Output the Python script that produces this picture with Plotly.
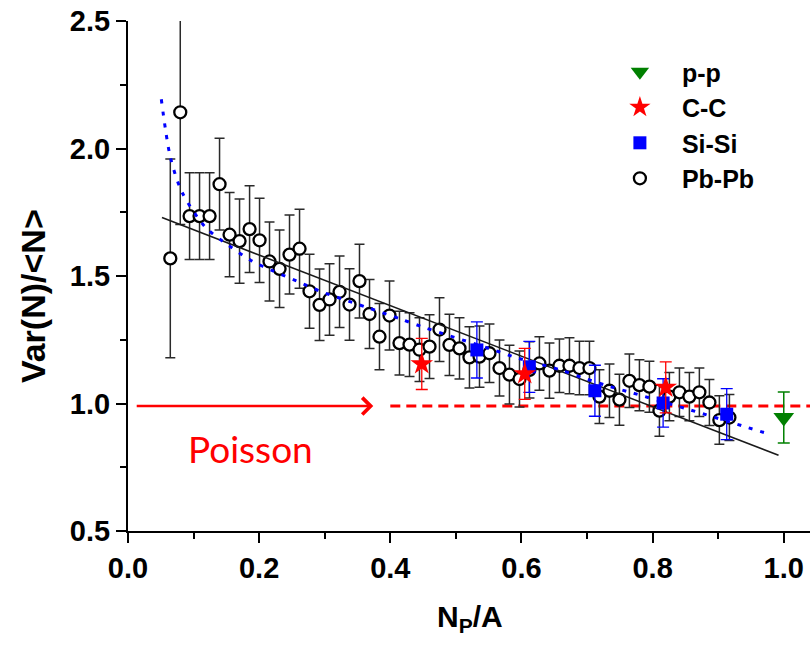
import plotly.graph_objects as go

# ---------------- data ----------------
pb_x = [0.0645, 0.0797, 0.0939, 0.1091, 0.1244, 0.1396, 0.1549, 0.1701, 0.1854, 0.2006,
        0.2158, 0.2311, 0.2463, 0.2616, 0.2768, 0.2921, 0.3073, 0.3226, 0.3378, 0.3530,
        0.3683, 0.3835, 0.3988, 0.4140, 0.4293, 0.4445, 0.4598, 0.4750, 0.4902, 0.5055,
        0.5207, 0.5360, 0.5512, 0.5665, 0.5817, 0.5970, 0.6122, 0.6274, 0.6427, 0.6579,
        0.6732, 0.6884, 0.7037, 0.7189, 0.7342, 0.7494, 0.7646, 0.7799, 0.7951, 0.8104,
        0.8256, 0.8409, 0.8561, 0.8713, 0.8866, 0.9018, 0.9171]
pb_y = [1.569, 2.142, 1.735, 1.735, 1.735, 1.860, 1.662, 1.637, 1.684, 1.640,
        1.557, 1.528, 1.584, 1.607, 1.440, 1.387, 1.408, 1.438, 1.388, 1.480,
        1.351, 1.262, 1.345, 1.237, 1.231, 1.211, 1.223, 1.290, 1.230, 1.216,
        1.181, 1.184, 1.197, 1.139, 1.113, 1.096, 1.132, 1.157, 1.129, 1.148,
        1.148, 1.139, 1.139, 1.027, 1.050, 1.015, 1.089, 1.072, 1.066, 0.972,
        1.027, 1.044, 1.027, 1.044, 1.004, 0.935, 0.945]
pb_err = [0.390, 0.440, 0.170, 0.170, 0.170, 0.180, 0.165, 0.165, 0.170, 0.165,
          0.155, 0.152, 0.155, 0.155, 0.145, 0.140, 0.140, 0.140, 0.140, 0.145,
          0.135, 0.130, 0.135, 0.125, 0.125, 0.125, 0.125, 0.125, 0.120, 0.120,
          0.120, 0.120, 0.115, 0.110, 0.115, 0.110, 0.110, 0.105, 0.108, 0.105,
          0.110, 0.105, 0.105, 0.105, 0.105, 0.100, 0.105, 0.100, 0.100, 0.100,
          0.095, 0.095, 0.095, 0.095, 0.090, 0.095, 0.090]

si_x = [0.532, 0.612, 0.712, 0.816, 0.913]
si_y = [1.210, 1.144, 1.050, 1.002, 0.958]
si_err = [0.110, 0.100, 0.100, 0.095, 0.100]

cc_x = [0.448, 0.605, 0.820]
cc_y = [1.155, 1.116, 1.063]
cc_err = [0.100, 0.100, 0.100]

pp_x = [1.000]
pp_y = [0.945]
pp_err = [0.100]

fit_x = [0.0518, 0.992]
fit_y = [1.729, 0.797]

curve_x = [0.0508, 0.0645, 0.0823, 0.1178, 0.1534, 0.1875, 0.2220, 0.2576, 0.2931, 0.3287,
           0.3643, 0.4151, 0.4506, 0.5573, 0.5904, 0.6590, 0.6945, 0.7302, 0.7657, 0.8521,
           0.9410, 0.9765]
curve_y = [2.193, 1.967, 1.829, 1.692, 1.620, 1.561, 1.519, 1.480, 1.440, 1.408,
           1.377, 1.332, 1.299, 1.210, 1.181, 1.132, 1.100, 1.070, 1.044, 0.979,
           0.909, 0.881]

poisson_level = 0.99
poisson_dash_x = [0.40, 1.04]
arrow_x = [0.011, 0.374]

x_ticks = [0.0, 0.2, 0.4, 0.6, 0.8, 1.0]
x_ticklabels = ["0.0", "0.2", "0.4", "0.6", "0.8", "1.0"]
y_ticks = [0.5, 1.0, 1.5, 2.0, 2.5]
y_ticklabels = ["0.5", "1.0", "1.5", "2.0", "2.5"]

FONT = "Liberation Sans, Arial, sans-serif"

fig = go.Figure()

# Poisson dashed reference line
fig.add_trace(go.Scatter(x=poisson_dash_x, y=[poisson_level] * len(poisson_dash_x), mode="lines",
                         line=dict(color="#ff0000", width=3, dash="10px,6px"),
                         showlegend=False, hoverinfo="skip"))

# Pb-Pb
fig.add_trace(go.Scatter(x=pb_x, y=pb_y, mode="markers", name="Pb-Pb", legendrank=4,
                         marker=dict(symbol="circle", size=12, color="white",
                                     line=dict(color="black", width=2.3)),
                         error_y=dict(type="data", array=pb_err, color="#2a2a2a",
                                      thickness=1.5, width=5)))

# linear fit
fig.add_trace(go.Scatter(x=fit_x, y=fit_y, mode="lines",
                         line=dict(color="#1a1a1a", width=1.6),
                         showlegend=False, hoverinfo="skip"))

# blue dotted curve
fig.add_trace(go.Scatter(x=curve_x, y=curve_y, mode="lines",
                         line=dict(color="#0000ff", width=3, dash="4px,8px", shape="spline",
                                   smoothing=0.8),
                         showlegend=False, hoverinfo="skip"))

# Si-Si
fig.add_trace(go.Scatter(x=si_x, y=si_y, mode="markers", name="Si-Si", legendrank=3,
                         marker=dict(symbol="square", size=13, color="#0000ff"),
                         error_y=dict(type="data", array=si_err, color="#0000ff",
                                      thickness=1.3, width=6)))

# C-C
fig.add_trace(go.Scatter(x=cc_x, y=cc_y, mode="markers", name="C-C", legendrank=2,
                         marker=dict(symbol="star", size=17, color="#ff0000"),
                         error_y=dict(type="data", array=cc_err, color="#ff0000",
                                      thickness=1.3, width=6)))

# p-p
fig.add_trace(go.Scatter(x=pp_x, y=pp_y, mode="markers", name="p-p", legendrank=1,
                         marker=dict(symbol="triangle-down", size=18, color="#008000"),
                         error_y=dict(type="data", array=pp_err, color="#008000",
                                      thickness=1.5, width=6)))

# arrow toward Poisson line
fig.add_annotation(x=arrow_x[1], y=poisson_level, ax=arrow_x[0], ay=poisson_level,
                   xref="x", yref="y", axref="x", ayref="y", text="", showarrow=True,
                   arrowhead=4, arrowsize=1.3, arrowwidth=2.5, arrowcolor="#ff0000")

fig.add_annotation(x=0.187, y=0.825, xref="x", yref="y", text="Poisson", showarrow=False,
                   font=dict(family="Lato, Open Sans, sans-serif", size=37, color="#ff0000"),
                   xanchor="center", yanchor="middle")

# axis titles
fig.add_annotation(x=0.502, y=-0.172, xref="paper", yref="paper",
                   text="N<sub>P</sub>/A", showarrow=False,
                   font=dict(family=FONT, size=30, color="black", weight="bold"),
                   xanchor="center", yanchor="middle")
fig.add_annotation(x=-0.139, y=0.461, xref="paper", yref="paper",
                   text="Var(N)/&lt;N&gt;", showarrow=False, textangle=-90,
                   font=dict(family=FONT, size=34, color="black", weight="bold"),
                   xanchor="center", yanchor="middle")

fig.update_xaxes(range=[0, 1.04], tickmode="array", tickvals=x_ticks, ticktext=x_ticklabels,
                 showline=True, linecolor="black", linewidth=2, mirror=False,
                 ticks="outside", ticklen=10, tickwidth=2, tickcolor="black",
                 minor=dict(dtick=0.1, ticks="outside", ticklen=6, tickwidth=2, tickcolor="black"),
                 showgrid=False, zeroline=False,
                 tickfont=dict(family=FONT, size=29, color="black", weight="bold"))
fig.update_yaxes(range=[0.5, 2.5], tickmode="array", tickvals=y_ticks, ticktext=y_ticklabels,
                 showline=True, linecolor="black", linewidth=2, mirror=False,
                 ticks="outside", ticklen=10, tickwidth=2, tickcolor="black",
                 minor=dict(dtick=0.25, ticks="outside", ticklen=6, tickwidth=2, tickcolor="black"),
                 showgrid=False, zeroline=False,
                 tickfont=dict(family=FONT, size=29, color="black", weight="bold"))

fig.update_layout(
    width=810, height=647,
    margin=dict(l=128, r=0, t=21, b=116),
    paper_bgcolor="white", plot_bgcolor="white",
    showlegend=True,
    legend=dict(x=0.689, y=0.945, xanchor="left", yanchor="top",
                bgcolor="rgba(0,0,0,0)", itemwidth=74,
                font=dict(family=FONT, size=25, color="black", weight="bold"),
                tracegroupgap=0),
)

fig.write_html("out.html")
